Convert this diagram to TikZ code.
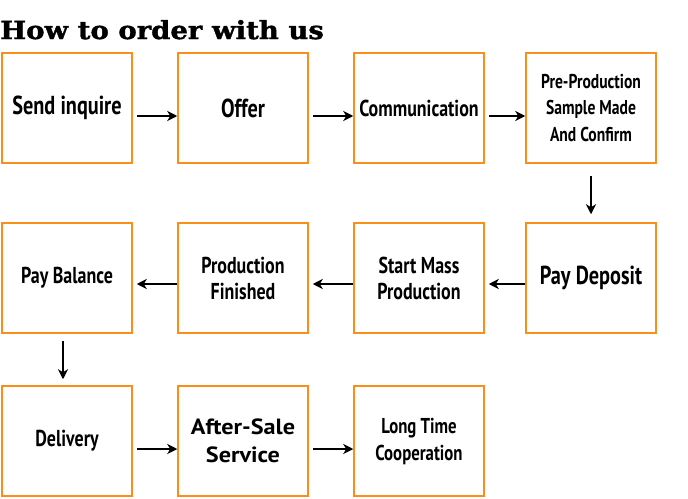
\documentclass[tikz,border=0pt]{standalone}
\usepackage{fontspec}
\usetikzlibrary{arrows.meta,positioning}
\setmainfont{PT Sans}
\newfontfamily\boxfont[FakeStretch=0.78]{PT Sans Bold}
\newfontfamily\widefont[FakeStretch=1.1]{PT Sans Bold}
\newfontfamily\titlefont[FakeStretch=1.1,FakeBold=1.5]{DejaVu Serif Bold}
\definecolor{boxorange}{RGB}{250,142,24}
\newcommand{\boxw}{130pt}
\newcommand{\boxh}{110pt}
\tikzset{
    boxsty/.style={draw=boxorange,line width=1.5pt,rectangle,minimum width=\boxw,minimum height=\boxh,
                   inner sep=0pt,align=center,font=\boxfont\fontsize{26}{26}\selectfont},
    midsty/.style={font=\boxfont\fontsize{23}{26}\selectfont},
    smallsty/.style={font=\boxfont\fontsize{20}{26.5}\selectfont},
    widesty/.style={font=\widefont\fontsize{22}{28}\selectfont},
    titlesty/.style={inner sep=0pt,font=\titlefont\fontsize{25}{30}\selectfont},
    arrsty/.style={-{Stealth[length=10pt,width=10pt,inset=3pt]},line width=2pt},
}

\begin{document}
\begin{tikzpicture}[x=1pt,y=-1pt]
\useasboundingbox (0,0) rectangle (688,498);

\node[titlesty,anchor=base west] (title) at (0,39) {How to order with us};

% first row
\node[boxsty] (inquire) at (67,108) {Send inquire};
\node[boxsty] (offer) at (243,108) {Offer};
\node[boxsty,midsty] (comm) at (419,108) {Communication};
\node[boxsty,smallsty] (sample) at (591,108) {Pre-Production\\Sample Made\\And Confirm};

% second row
\node[boxsty] (deposit) at (591,278) {Pay Deposit};
\node[boxsty,midsty] (mass) at (419,278) {Start Mass\\Production};
\node[boxsty,midsty] (finished) at (243,278) {Production\\Finished};
\node[boxsty,midsty] (balance) at (67,278) {Pay Balance};

% third row
\node[boxsty,midsty] (delivery) at (67,441) {Delivery};
\node[boxsty,widesty] (aftersale) at (243,441) {After-Sale\\Service};
\node[boxsty,font=\boxfont\fontsize{21.5}{27}\selectfont] (longtime) at (419,441) {Long Time\\Cooperation};

\foreach \a/\b in {inquire/offer,offer/comm,comm/sample,delivery/aftersale,aftersale/longtime}
  \draw[arrsty] ([xshift=4pt,yshift=-8pt]\a.east) -- ([yshift=-8pt]\b.west);
\foreach \a/\b in {deposit/mass,mass/finished,finished/balance}
  \draw[arrsty] ([yshift=-6pt]\a.west) -- ([xshift=4pt,yshift=-6pt]\b.east);

\draw[arrsty] ([yshift=-12pt]sample.south) -- ([yshift=8pt]deposit.north);
\draw[arrsty] ([xshift=-4pt,yshift=-7pt]balance.south) -- ([xshift=-4pt,yshift=6pt]delivery.north);
\end{tikzpicture}
\end{document}
